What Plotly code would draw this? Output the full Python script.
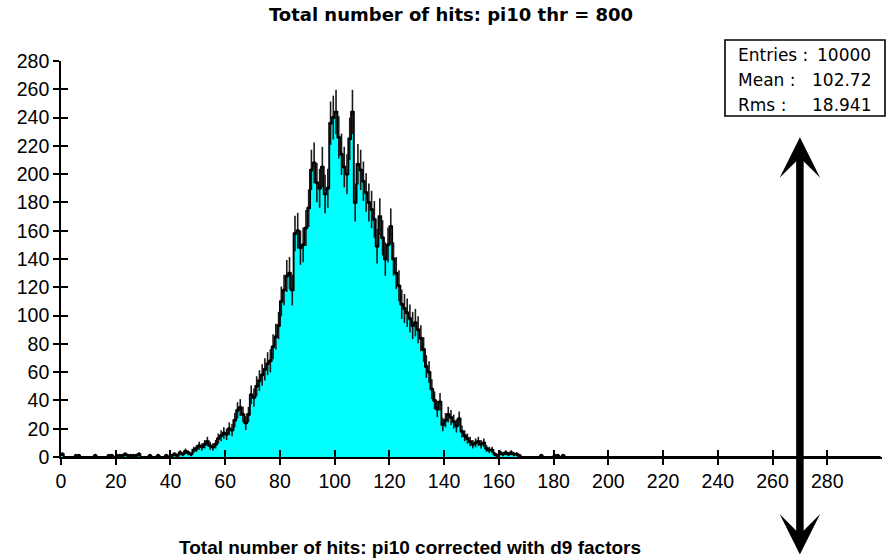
import numpy as np
import plotly.graph_objects as go

# ---------------- data ----------------
n_bins = 300
x_min, x_max = 0, 300

# isolated low-side bins (mostly single entries)
low_bins = [0, 5, 6, 12, 17, 18, 20, 21, 22, 23, 24, 25, 26, 27, 28, 32, 35, 38, 40, 41, 42]
low_counts = [2, 1, 1, 1, 1, 1, 1, 1, 1, 2, 1, 1, 1, 1, 2, 1, 1, 1, 1, 2, 1]

# contiguous core of the distribution, starting at bin 43
core_start = 43
core_counts = [
    3, 2, 4, 3, 2, 5, 6, 8, 7, 9,            # 43-52
    11, 8, 7, 9, 13, 15, 17, 16, 20, 19,     # 53-62
    26, 33, 35, 30, 24, 30, 44, 42, 50, 54,  # 63-72
    58, 62, 66, 68, 78, 85, 93, 110, 118, 128,  # 73-82
    130, 118, 158, 160, 148, 150, 162, 176, 203, 208,  # 83-92
    194, 190, 205, 186, 190, 236, 240, 244, 226, 214,  # 93-102
    205, 200, 225, 244, 180, 207, 203, 195, 187, 180,  # 103-112
    175, 168, 149, 170, 155, 140, 150, 163, 140, 130,  # 113-122
    121, 108, 105, 102, 98, 93, 95, 90, 84, 76,        # 123-132
    64, 60, 48, 40, 34, 39, 23, 26, 30, 28,            # 133-142
    25, 22, 27, 18, 15, 13, 11, 9, 10, 11,             # 143-152
    9, 10, 6, 5, 5, 2, 1, 3, 2, 3,                     # 153-162
    2, 3, 2, 2, 1,                                     # 163-167
]

# isolated high-side bins
high_bins = [175, 180, 181, 183]
high_counts = [1, 1, 1, 1]

x_ticks = list(range(0, 281, 20))
y_ticks = list(range(0, 281, 20))

title_top = "Total number of hits: pi10 thr = 800"
title_bottom = "Total number of hits: pi10 corrected with d9 factors"
stat_labels = ["Entries :", "Mean :", "Rms :"]
stat_values = ["10000", "102.72", "18.941"]

arrow_x = 270
arrow_y_top = 226
arrow_y_bottom = -70

# ---------------- build histogram ----------------
counts = np.zeros(n_bins)
for b, c in zip(low_bins, low_counts):
    counts[b] = c
for i, c in enumerate(core_counts):
    counts[core_start + i] = c
for b, c in zip(high_bins, high_counts):
    counts[b] = c

centers = np.arange(n_bins) + 0.5
nz = counts > 0

fig = go.Figure()

fig.add_trace(go.Bar(
    x=centers, y=counts, width=1.0,
    marker=dict(color="#00FFFF", line=dict(width=0)),
    hoverinfo="skip", showlegend=False,
))

# step outline
fig.add_trace(go.Scatter(
    x=centers, y=counts, mode="lines", line=dict(shape="hvh", color="black", width=1.9),
    hoverinfo="skip", showlegend=False,
))

# error bars + markers
fig.add_trace(go.Scatter(
    x=centers[nz], y=counts[nz], mode="markers",
    marker=dict(color="black", size=3.5),
    error_y=dict(type="data", array=np.sqrt(counts[nz]), color="#1a1a1a",
                 thickness=1.6, width=0),
    showlegend=False,
))

# empty trace to create the overlay axes (inner halves of crossing ticks)
fig.add_trace(go.Scatter(x=[], y=[], xaxis="x2", yaxis="y2", showlegend=False))

tick_font = dict(family="Liberation Sans, Arial, sans-serif", size=19.5, color="black")

fig.update_layout(
    width=889, height=560,
    margin=dict(l=61, r=7, t=61, b=103),
    paper_bgcolor="white", plot_bgcolor="white",
    bargap=0,
    title=dict(text=title_top, x=451 / 889, xref="container", xanchor="center",
               y=1 - 15 / 560, yref="container", yanchor="middle",
               font=dict(family="DejaVu Sans", size=18, color="black", weight="bold")),
    xaxis=dict(range=[x_min, x_max], tickvals=x_ticks, ticks="outside", ticklen=6,
               tickwidth=1.6, tickcolor="black", showline=True, linecolor="black",
               linewidth=1.6, showgrid=False, zeroline=False, tickfont=tick_font),
    yaxis=dict(range=[0, 280], tickvals=y_ticks, ticks="outside", ticklen=6,
               tickwidth=1.6, tickcolor="black", showline=True, linecolor="black",
               linewidth=1.6, showgrid=False, zeroline=False, tickfont=tick_font),
    xaxis2=dict(range=[x_min, x_max], tickvals=x_ticks, ticks="inside", ticklen=7,
                tickwidth=1.6, tickcolor="black", showline=False, showgrid=False,
                zeroline=False, showticklabels=False, overlaying="x", anchor="y2"),
    yaxis2=dict(range=[0, 280], tickvals=y_ticks, ticks="inside", ticklen=7,
                tickwidth=1.6, tickcolor="black", showline=False, showgrid=False,
                zeroline=False, showticklabels=False, overlaying="y", anchor="x2"),
)

# ---------------- stats box ----------------
def px_x(p):
    return (p - 61) / 821.0

def px_y(p):
    return (457 - p) / 396.0

fig.add_shape(type="rect", xref="paper", yref="paper",
              x0=px_x(725), x1=px_x(885), y0=px_y(116), y1=px_y(40),
              line=dict(color="black", width=1.6), fillcolor="white", layer="above")

stat_font = dict(family="DejaVu Sans", size=17, color="black")
for i, (lab, val) in enumerate(zip(stat_labels, stat_values)):
    yc = px_y(55 + 25 * i)
    fig.add_annotation(text=lab, xref="paper", yref="paper", x=px_x(736), y=yc,
                       xanchor="left", yanchor="middle", showarrow=False, font=stat_font)
    fig.add_annotation(text=val, xref="paper", yref="paper", x=px_x(873), y=yc,
                       xanchor="right", yanchor="middle", showarrow=False, font=stat_font)

# ---------------- double arrow ----------------
fig.add_annotation(x=arrow_x, y=arrow_y_top, ax=arrow_x, ay=arrow_y_bottom,
                   xref="x", yref="y", axref="x", ayref="y", text="",
                   showarrow=True, arrowside="end+start",
                   arrowhead=3, startarrowhead=3, arrowsize=0.9, startarrowsize=0.9,
                   arrowwidth=7.5, arrowcolor="black")

# ---------------- bottom title (kept fully inside the page) ----------------
fig.add_annotation(text=title_bottom, xref="paper", yref="paper",
                   x=px_x(410), y=px_y(535), xanchor="center", yanchor="top",
                   showarrow=False,
                   font=dict(family="Liberation Sans, Arial", size=19, color="black",
                             weight="bold"))

fig.write_html("out.html")
